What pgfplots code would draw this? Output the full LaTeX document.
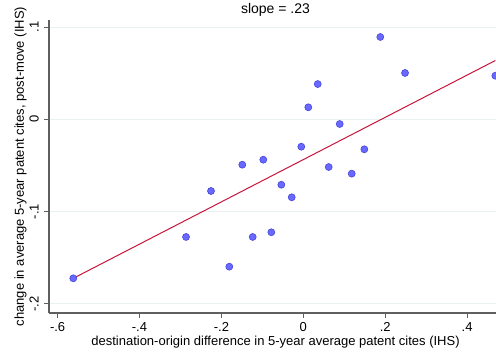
\documentclass[border=0pt]{standalone}
\usepackage{fontspec}
\setmainfont{Liberation Sans}
\usepackage{pgfplots}
\pgfplotsset{compat=1.18}

\definecolor{gridc}{RGB}{232,240,241}
\definecolor{axisc}{RGB}{95,95,95}
\definecolor{markfill}{RGB}{105,105,255}
\definecolor{markedge}{RGB}{70,70,220}
\definecolor{fitc}{RGB}{200,20,60}

\newcommand{\lblfont}{\fontsize{13bp}{15bp}\selectfont}
\newcommand{\ttlfont}{\fontsize{14bp}{16bp}\selectfont}

\begin{document}
\begin{tikzpicture}[x=1bp,y=1bp]
\useasboundingbox (0,0) rectangle (496,353);
\begin{axis}[
  at={(49bp,40bp)}, anchor=south west,
  scale only axis, width=453bp, height=293bp,
  xmin=-0.621, xmax=0.4852, ymin=-0.2099, ymax=0.1076,
  axis x line*=bottom, axis y line*=left,
  axis line style={axisc, line width=1.2bp, -},
  xtick={-0.6,-0.4,-0.2,0,0.2,0.4},
  xticklabels={-.6,-.4,-.2,0,.2,.4},
  ytick={-0.2,-0.1,0,0.1},
  yticklabels={-.2,-.1,0,.1},
  tick align=outside, major tick length=5bp,
  tick style={axisc, line width=0.9bp},
  ymajorgrids, grid style={gridc, line width=0.9bp},
  every tick label/.append style={font=\lblfont, inner sep=0pt},
  xticklabel style={anchor=base, yshift=-13bp},
  yticklabel style={xshift=-5.5bp, rotate=90, anchor=base},
  every axis title shift=0pt,
  title={slope = .23},
  title style={font=\ttlfont, at={(rel axis cs:0.5,1)}, anchor=base, yshift=6.5bp, inner sep=0pt},
  xlabel={destination-origin difference in 5-year average patent cites (IHS)},
  xlabel style={font=\lblfont, at={(rel axis cs:0.5,0)}, anchor=base, yshift=-32.3bp, inner sep=0pt},
  ylabel={change in average 5-year patent cites, post-move (IHS)},
  ylabel style={font=\lblfont, at={(axis description cs:-0.0552,0.5)}, anchor=base, inner sep=0pt},
]
\addplot[only marks, mark=*, mark size=3.5bp,
  mark options={fill=markfill, draw=markedge, line width=0.6bp}]
  table {
x y
-0.5617 -0.1723
-0.2864 -0.1275
-0.2254 -0.0777
-0.1807 -0.1597
-0.1490 -0.0492
-0.1236 -0.1275
-0.0977 -0.0438
-0.0781 -0.1224
-0.0537 -0.0709
-0.0283 -0.0845
-0.0049 -0.0297
 0.0122  0.0130
 0.0352  0.0382
 0.0620 -0.0517
 0.0889 -0.0051
 0.1182 -0.0589
 0.1490 -0.0325
 0.1880  0.0892
 0.2484  0.0502
 0.4689  0.0472
};
\addplot[fitc, line width=1bp] coordinates {(-0.5617,-0.1723) (0.4689,0.0637)};
\end{axis}
\end{tikzpicture}
\end{document}
